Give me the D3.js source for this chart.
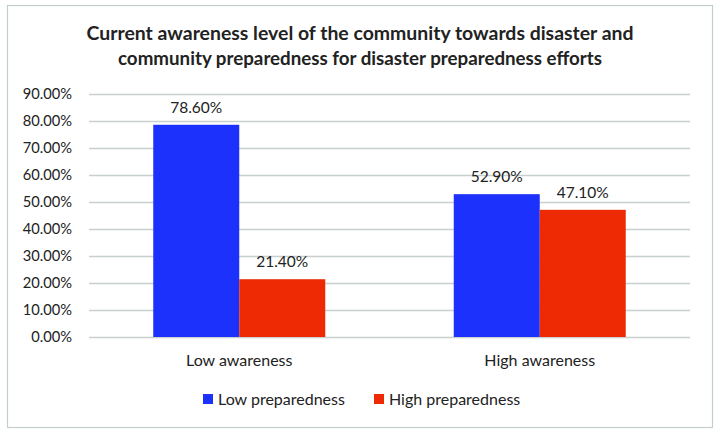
<!DOCTYPE html>
<html><head><meta charset="utf-8">
<script src="https://cdn.jsdelivr.net/npm/d3@7"></script>
<style>body{margin:0;background:#fff}svg{display:block}text{font-family:Lato,"Open Sans",sans-serif;fill:#222}</style>
</head><body>
<svg id="c" width="720" height="434"></svg>
<script>
const titleLines = ["Current awareness level of the community towards disaster and","community preparedness for disaster preparedness efforts"];
const categories = ["Low awareness","High awareness"];
const seriesNames = ["Low preparedness","High preparedness"];
const lowPreparedness = [78.6, 52.9];
const highPreparedness = [21.4, 47.1];
const yTicks = [0,10,20,30,40,50,60,70,80,90];
const colors = ["#1c31fb","#ee2a04"];

const svg = d3.select("#c");
svg.append("rect").attr("x",7.5).attr("y",5.5).attr("width",705).attr("height",422)
  .attr("fill","#fff").attr("stroke","#c3cfcf").attr("stroke-width",1.2);

const tl = [547, 484];
titleLines.forEach((t,i)=>{
  svg.append("text").attr("x",360).attr("y",40+i*25).attr("text-anchor","middle")
    .attr("font-size",18.5).attr("font-weight","bold").attr("textLength",tl[i])
    .attr("lengthAdjust","spacingAndGlyphs").text(t);
});

const m = {left:89, right:690, top:94, bottom:337};
const y = d3.scaleLinear().domain([0,90]).range([m.bottom,m.top]);
const x0 = d3.scaleBand().domain(categories).range([m.left,m.right]).paddingInner(0).paddingOuter(0);
const x1 = d3.scaleBand().domain(seriesNames).range([0,172]);

const grid = svg.append("g");
grid.selectAll("line").data(yTicks).join("line")
  .attr("x1",m.left).attr("x2",m.right).attr("y1",d=>Math.round(y(d))+0.5).attr("y2",d=>Math.round(y(d))+0.5)
  .attr("stroke","#c8d0d0").attr("stroke-width",1.3);

const yAxis = d3.axisLeft(y).tickValues(yTicks).tickFormat(d=>d3.format(".2f")(d)+"%").tickSize(0).tickPadding(0);
const ga = svg.append("g").attr("transform",`translate(72,0)`).call(yAxis);
ga.select(".domain").remove();
ga.selectAll("text").attr("font-size",14.7).attr("font-family","Lato, sans-serif").attr("fill","#222");

const data = categories.map((c,i)=>({cat:c, vals:[lowPreparedness[i], highPreparedness[i]]}));
const groups = svg.selectAll("g.grp").data(data).join("g").attr("class","grp")
  .attr("transform",d=>`translate(${x0(d.cat)+x0.bandwidth()/2-86},0)`);
groups.selectAll("rect").data(d=>d.vals.map((v,j)=>({v,s:seriesNames[j],j}))).join("rect")
  .attr("x",d=>x1(d.s)).attr("width",x1.bandwidth()).attr("y",d=>y(d.v)).attr("height",d=>y(0)-y(d.v))
  .attr("fill",d=>colors[d.j]);
groups.selectAll("text.lbl").data(d=>d.vals.map((v,j)=>({v,s:seriesNames[j],j}))).join("text").attr("class","lbl")
  .attr("x",d=>x1(d.s)+x1.bandwidth()/2).attr("y",d=>y(d.v)-12).attr("text-anchor","middle")
  .attr("font-size",15.5).text(d=>d3.format(".2f")(d.v)+"%");

const xAxis = d3.axisBottom(x0).tickSize(0).tickPadding(0);
const gx = svg.append("g").attr("transform",`translate(0,${m.bottom})`).call(xAxis);
gx.select(".domain").remove();
gx.selectAll("text").attr("font-size",16).attr("font-family","Lato, sans-serif").attr("fill","#222").attr("dy",0).attr("y",29);

const legX = [203, 374];
const lg = svg.selectAll("g.leg").data(seriesNames).join("g").attr("class","leg")
  .attr("transform",(d,i)=>`translate(${legX[i]},394)`);
lg.append("rect").attr("width",10).attr("height",10).attr("fill",(d,i)=>colors[i]);
lg.append("text").attr("x",15).attr("y",11).attr("font-size",16).text(d=>d);
</script>
</body></html>
